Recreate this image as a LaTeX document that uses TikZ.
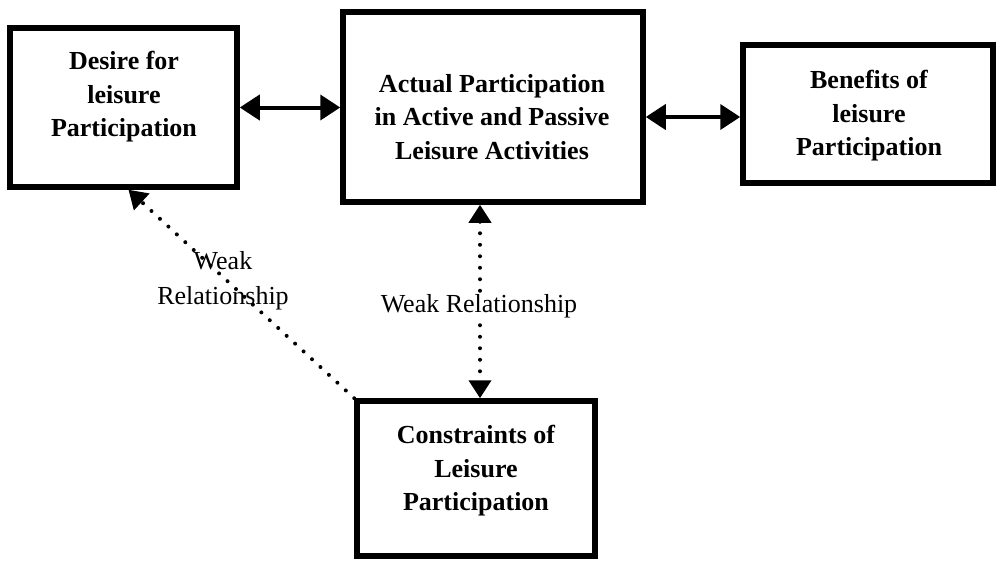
\documentclass[tikz,border=0pt]{standalone}
\usepackage{fontspec}
\setmainfont{Liberation Serif}
\usetikzlibrary{arrows.meta}
\tikzset{
  box/.style={draw, line width=5.5pt, rectangle, inner sep=0pt},
  boxtext/.style={align=center, font=\bfseries\fontsize{26}{33.5}\selectfont, inner sep=0pt},
  lbl/.style={align=center, font=\fontsize{26}{35}\selectfont, inner sep=1pt},
  solidarrow/.style={line width=4pt, {Triangle[length=20pt,width=25pt]}-{Triangle[length=20pt,width=25pt]}},
  dotarrow/.style={line width=4pt, line cap=round, dash pattern=on 0pt off 11.5pt, -{Triangle[length=18pt,width=22pt]}},
  dotarrowboth/.style={line width=4pt, line cap=round, dash pattern=on 0pt off 11.5pt, {Triangle[length=18pt,width=22pt]}-{Triangle[length=18pt,width=22pt]}}
}
\begin{document}
\begin{tikzpicture}[x=1pt,y=-1pt]
\useasboundingbox (0,0) rectangle (997,562);
% boxes
\node[box, minimum width=227pt, minimum height=159pt] (b1) at (123.5,107.5) {};
\node[box, minimum width=300pt, minimum height=190pt] (b2) at (493,107) {};
\node[box, minimum width=250pt, minimum height=138pt] (b3) at (868,114) {};
\node[box, minimum width=238pt, minimum height=155pt] (b4) at (476,478.5) {};
% texts
\node[boxtext] (t1) at (124,97) {Desire for\\leisure\\Participation};
\node[boxtext] (t2) at (492,117) {Actual Participation\\in Active and Passive\\Leisure Activities};
\node[boxtext] (t3) at (869,116) {Benefits of\\leisure\\Participation};
\node[boxtext] (t4) at (476,471) {Constraints of\\Leisure\\Participation};
% solid arrows
\draw[solidarrow] (b1.east) -- (b1.east -| b2.west);
\draw[solidarrow] ([yshift=-3pt]b3.west -| b2.east) -- ([yshift=-3pt]b3.west);
% dotted arrows
\coordinate (vb) at ([xshift=4pt]b4.north);
\coordinate (vt) at ([xshift=4pt]b4.north |- b2.south);
\draw[dotarrowboth] (vt) -- (vb);
\node[lbl, fill=white] (l2) at (479,306) {Weak Relationship};
\coordinate (dt) at ([xshift=5pt]b1.south);
\draw[dotarrow] (b4.north west) -- (dt);
\node[lbl] (l1) at (223,281) {Weak\\Relationship};
\end{tikzpicture}
\end{document}
